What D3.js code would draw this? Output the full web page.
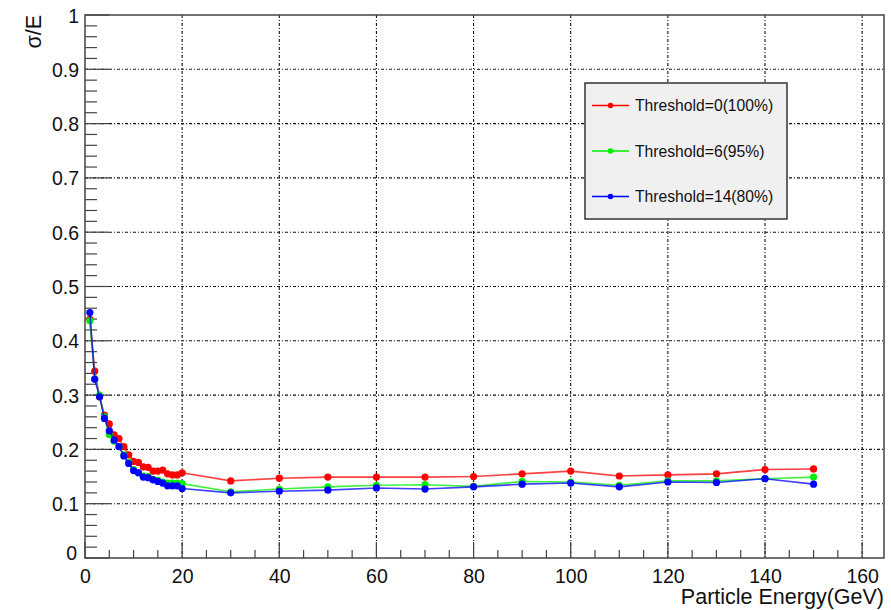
<!DOCTYPE html>
<html>
<head>
<meta charset="utf-8">
<script src="https://cdn.jsdelivr.net/npm/d3@7"></script>
<style>
  html, body { margin: 0; padding: 0; background: #fff; }
  svg { display: block; font-family: "Liberation Sans", Arial, sans-serif; }
</style>
</head>
<body>
<svg id="chart" width="891" height="610"></svg>
<script>
// Beam energies (GeV)
const energies = [1, 2, 3, 4, 5, 6, 7, 8, 9, 10, 11, 12, 13, 14, 15, 16, 17, 18, 19, 20,
                  30, 40, 50, 60, 70, 80, 90, 100, 110, 120, 130, 140, 150];

// Relative energy resolution sigma/E for each threshold
const thr0 = [0.440, 0.344, 0.297, 0.263, 0.247, 0.227, 0.220, 0.205, 0.190, 0.178,
              0.176, 0.168, 0.167, 0.160, 0.160, 0.162, 0.155, 0.153, 0.153, 0.157,
              0.142, 0.147, 0.149, 0.149, 0.149, 0.150, 0.155, 0.160, 0.151, 0.153,
              0.155, 0.163, 0.164];
const thr6 = [0.437, 0.330, 0.300, 0.260, 0.227, 0.215, 0.205, 0.190, 0.176, 0.163,
              0.157, 0.151, 0.150, 0.145, 0.143, 0.140, 0.138, 0.138, 0.138, 0.137,
              0.122, 0.127, 0.131, 0.134, 0.135, 0.132, 0.141, 0.140, 0.134, 0.142,
              0.142, 0.146, 0.149];
const thr14 = [0.452, 0.329, 0.297, 0.257, 0.234, 0.217, 0.205, 0.188, 0.174, 0.161,
               0.157, 0.149, 0.148, 0.144, 0.141, 0.138, 0.133, 0.133, 0.133, 0.128,
               0.120, 0.123, 0.125, 0.129, 0.127, 0.131, 0.136, 0.138, 0.131, 0.140,
               0.139, 0.146, 0.136];

const seriesNames = ["Threshold=0(100%)", "Threshold=6(95%)", "Threshold=14(80%)"];
const seriesColors = ["#ff0000", "#00ee00", "#0000ff"];
const seriesValues = [thr0, thr6, thr14];

const xTicks = [0, 20, 40, 60, 80, 100, 120, 140, 160];
const yTicks = [0, 0.1, 0.2, 0.3, 0.4, 0.5, 0.6, 0.7, 0.8, 0.9, 1];

const svg = d3.select("#chart");
const frame = { left: 85, right: 884, top: 15, bottom: 558 };

const x = d3.scaleLinear().domain([0, 164.5]).range([frame.left, frame.right]);
const y = d3.scaleLinear().domain([0, 1]).range([frame.bottom, frame.top]);

const axisColor = "#444";
const labelFont = 19.5;

// Grid lines (dash-dot)
const grid = svg.append("g");
grid.selectAll("line.vx").data(xTicks.filter(d => d > 0)).join("line")
  .attr("x1", d => x(d)).attr("x2", d => x(d))
  .attr("y1", frame.top).attr("y2", frame.bottom)
  .attr("stroke", "#111").attr("stroke-width", 1.1)
  .attr("stroke-dasharray", "3,2,1,2");
grid.selectAll("line.hy").data(yTicks.filter(d => d > 0 && d < 1)).join("line")
  .attr("x1", frame.left).attr("x2", frame.right)
  .attr("y1", d => y(d)).attr("y2", d => y(d))
  .attr("stroke", "#111").attr("stroke-width", 1.1)
  .attr("stroke-dasharray", "3,2,1,2");

// Bottom axis: major ticks every 20, minor every 5, drawn inward
const xAxis = d3.axisBottom(x).tickValues(xTicks).tickSize(0).tickFormat(d3.format("d"));
const gx = svg.append("g").attr("transform", `translate(0,${frame.bottom})`).call(xAxis);
gx.select(".domain").remove();
gx.selectAll("text").attr("dy", 0).attr("y", 25)
  .attr("font-size", labelFont).attr("fill", "#111")
  .attr("font-family", "Liberation Sans, Arial, sans-serif");
const xMinor = d3.range(0, 165, 5);
svg.append("g").selectAll("line").data(xMinor).join("line")
  .attr("x1", d => x(d)).attr("x2", d => x(d))
  .attr("y1", frame.bottom)
  .attr("y2", d => frame.bottom - (d % 20 === 0 ? 16 : 8))
  .attr("stroke", axisColor).attr("stroke-width", 1.2);

// Left axis: major every 0.1, minor every 0.02, drawn inward
const yAxis = d3.axisLeft(y).tickValues(yTicks).tickSize(0)
  .tickFormat(d => d3.format("~g")(d));
const gy = svg.append("g").attr("transform", `translate(${frame.left},0)`).call(yAxis);
gy.select(".domain").remove();
gy.selectAll("text").attr("x", -6).attr("dy", "0.36em")
  .attr("font-size", labelFont).attr("fill", "#111")
  .attr("font-family", "Liberation Sans, Arial, sans-serif");
gy.selectAll(".tick").filter(d => d === 0).select("text").attr("dy", "0.1em").attr("x", -8);
const yMinor = d3.range(0, 51).map(i => i / 50);
svg.append("g").selectAll("line").data(yMinor).join("line")
  .attr("x1", frame.left)
  .attr("x2", (d, i) => frame.left + (i % 5 === 0 ? 24 : 12))
  .attr("y1", d => y(d)).attr("y2", d => y(d))
  .attr("stroke", axisColor).attr("stroke-width", 1.2);

// Frame
svg.append("rect")
  .attr("x", frame.left).attr("y", frame.top)
  .attr("width", frame.right - frame.left).attr("height", frame.bottom - frame.top)
  .attr("fill", "none").attr("stroke", axisColor).attr("stroke-width", 1.5);

// Series: lines then markers
const line = d3.line().x((d, i) => x(energies[i])).y(d => y(d));
seriesValues.forEach((vals, k) => {
  const g = svg.append("g");
  g.append("path").datum(vals)
    .attr("d", line).attr("fill", "none")
    .attr("stroke", seriesColors[k]).attr("stroke-width", 1.6)
    .attr("stroke-opacity", 0.75);
  g.selectAll("circle").data(vals).join("circle")
    .attr("cx", (d, i) => x(energies[i])).attr("cy", d => y(d))
    .attr("r", 3.6).attr("fill", seriesColors[k]);
});

// Axis titles
svg.append("text")
  .attr("x", frame.right).attr("y", 604)
  .attr("text-anchor", "end").attr("font-size", 21.5).attr("fill", "#111")
  .text("Particle Energy(GeV)");
svg.append("text")
  .attr("transform", `translate(41,${frame.top}) rotate(-90)`)
  .attr("text-anchor", "end").attr("font-size", 21.5).attr("fill", "#111")
  .text("σ/E");

// Legend
const legend = svg.append("g");
legend.append("rect")
  .attr("x", 585).attr("y", 83).attr("width", 202).attr("height", 136)
  .attr("fill", "#f0f0f0").attr("stroke", "#333").attr("stroke-width", 1.5);
const rowsY = [105.5, 151, 196.5];
seriesNames.forEach((name, k) => {
  legend.append("line")
    .attr("x1", 592).attr("x2", 629).attr("y1", rowsY[k]).attr("y2", rowsY[k])
    .attr("stroke", seriesColors[k]).attr("stroke-width", 1.3);
  legend.append("circle").attr("cx", 610.5).attr("cy", rowsY[k]).attr("r", 2.8)
    .attr("fill", seriesColors[k]);
  legend.append("text").attr("x", 635).attr("y", rowsY[k]).attr("dy", "0.36em")
    .attr("font-size", 15.7).attr("fill", "#111").text(name);
});
</script>
</body>
</html>
